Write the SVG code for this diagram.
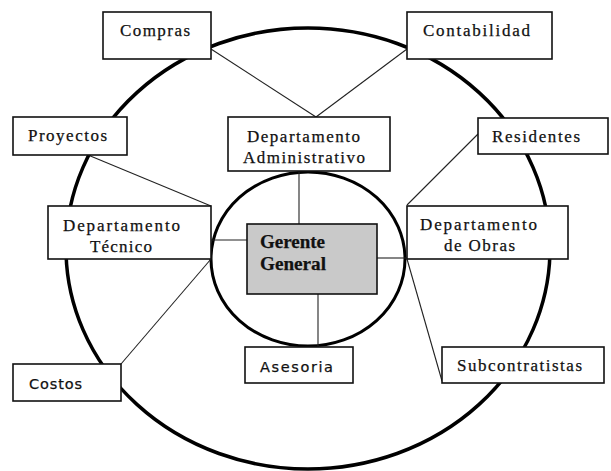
<svg xmlns="http://www.w3.org/2000/svg" width="611" height="471" viewBox="0 0 611 471">
<style>
.ring{fill:none;stroke:#000;}
.box{fill:#fff;stroke:#111;stroke-width:1.6;}
.gg{fill:#c9c9c9;stroke:#111;stroke-width:1.6;}
.ln{stroke:#222;stroke-width:1.1;fill:none;}
text{font-family:"Liberation Serif","Times New Roman",serif;font-size:17px;fill:#111;stroke:#111;stroke-width:0.25;}
.sans{font-family:"DejaVu Sans","Liberation Sans",sans-serif;font-size:14.5px;}
.bold{font-weight:bold;font-size:18px;}
</style>
<rect width="611" height="471" fill="#fff"/>
<g id="rings">
<ellipse class="ring" cx="308" cy="248.5" rx="242" ry="220.5" stroke-width="3.5"/>
<ellipse class="ring" cx="308" cy="259" rx="97" ry="87" stroke-width="3"/>
</g>
<g id="connectors">
<line class="ln" x1="211" y1="49" x2="316" y2="117"/>
<line class="ln" x1="407" y1="49" x2="316" y2="117"/>
<line class="ln" x1="88" y1="155" x2="211" y2="206"/>
<line class="ln" x1="478" y1="134" x2="407" y2="205"/>
<line class="ln" x1="299" y1="171" x2="299" y2="224"/>
<line class="ln" x1="211" y1="240" x2="247" y2="240"/>
<line class="ln" x1="377" y1="258" x2="407" y2="258"/>
<line class="ln" x1="318" y1="294" x2="318" y2="347"/>
<line class="ln" x1="211" y1="259" x2="121" y2="364"/>
<line class="ln" x1="407" y1="259" x2="442" y2="381"/>
</g>
<g id="compras"><rect class="box" x="103" y="12" width="108" height="47"/><text x="120" y="36" textLength="70" lengthAdjust="spacing">Compras</text></g>
<g id="contabilidad"><rect class="box" x="407" y="12" width="145" height="47"/><text x="423" y="36" textLength="107" lengthAdjust="spacing">Contabilidad</text></g>
<g id="proyectos"><rect class="box" x="13" y="117" width="114" height="38"/><text x="28" y="141" textLength="79" lengthAdjust="spacing">Proyectos</text></g>
<g id="admin"><rect class="box" x="228" y="117" width="162" height="54"/><text x="247" y="142" textLength="113" lengthAdjust="spacing">Departamento</text><text x="243" y="163" textLength="122" lengthAdjust="spacing">Administrativo</text></g>
<g id="residentes"><rect class="box" x="478" y="118" width="130" height="36"/><text x="492" y="142" textLength="88" lengthAdjust="spacing">Residentes</text></g>
<g id="tecnico"><rect class="box" x="48" y="206" width="163" height="53"/><text x="63" y="231" textLength="117" lengthAdjust="spacing">Departamento</text><text x="90" y="252" textLength="62" lengthAdjust="spacing">Técnico</text></g>
<g id="obras"><rect class="box" x="407" y="206" width="161" height="53"/><text x="420" y="230" textLength="117" lengthAdjust="spacing">Departamento</text><text x="444" y="251" textLength="71" lengthAdjust="spacing">de Obras</text></g>
<g id="gerente"><rect class="gg" x="247" y="224" width="130" height="70"/><text class="bold" x="260" y="248" textLength="65" lengthAdjust="spacingAndGlyphs">Gerente</text><text class="bold" x="260" y="270" textLength="66" lengthAdjust="spacingAndGlyphs">General</text></g>
<g id="asesoria"><rect class="box" x="245" y="347" width="108" height="36"/><text class="sans" x="260" y="372" textLength="73" lengthAdjust="spacing">Asesoria</text></g>
<g id="subcontratistas"><rect class="box" x="442" y="347" width="162" height="36"/><text x="457" y="371" textLength="125" lengthAdjust="spacing">Subcontratistas</text></g>
<g id="costos"><rect class="box" x="13" y="364" width="108" height="37"/><text class="sans" x="29" y="389" textLength="53" lengthAdjust="spacing">Costos</text></g>
</svg>
